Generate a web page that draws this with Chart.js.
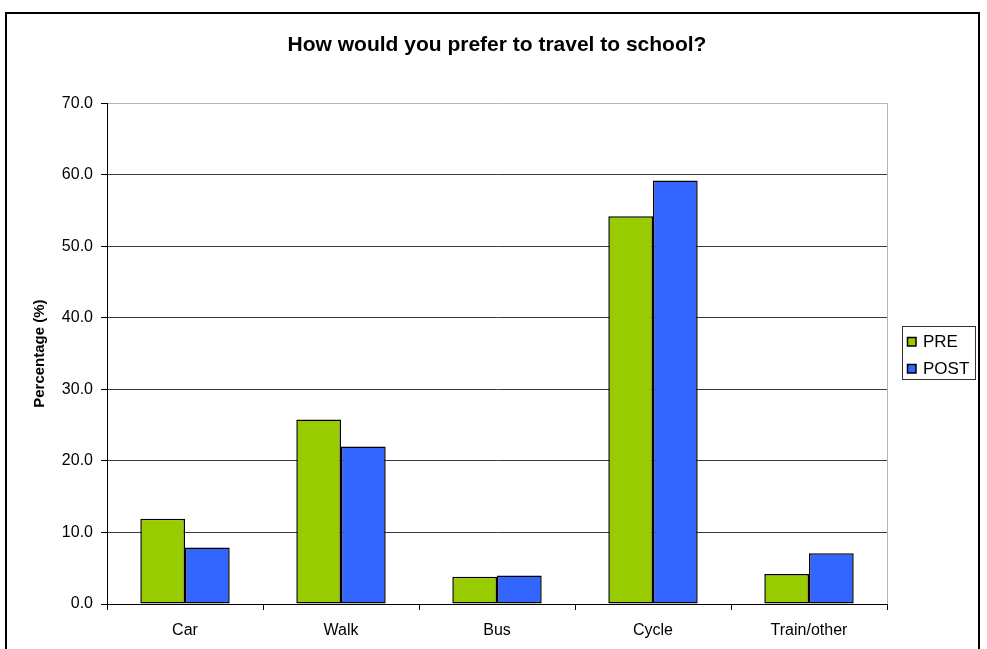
<!DOCTYPE html>
<html>
<head>
<meta charset="utf-8">
<title>How would you prefer to travel to school?</title>
<script src="https://cdn.jsdelivr.net/npm/chart.js@4/dist/chart.umd.min.js"></script>
<style>
  html, body { margin: 0; padding: 0; background: #ffffff; }
  canvas { display: block; }
</style>
</head>
<body>
<canvas id="chart" width="987" height="649"></canvas>
<script>
// Survey answers: preferred way of travelling to school, before and after
const categories = ['Car', 'Walk', 'Bus', 'Cycle', 'Train/other'];
const preValues  = [11.9, 25.8, 3.8, 54.2, 4.2];
const postValues = [7.9, 22.0, 4.0, 59.2, 7.1];
const seriesNames = ['PRE', 'POST'];
const axisMin = 0;
const axisMax = 70;
const axisStep = 10;

const FONT = "'Liberation Sans', Arial, Helvetica, sans-serif";

// White page, black frame around the whole chart
const framePlugin = {
  id: 'frame',
  beforeDraw(chart) {
    const { ctx, width, height } = chart;
    ctx.save();
    ctx.fillStyle = '#ffffff';
    ctx.fillRect(0, 0, width, height);
    ctx.restore();
  },
  afterDraw(chart) {
    const { ctx, height } = chart;
    ctx.save();
    ctx.strokeStyle = '#000000';
    ctx.lineWidth = 2;
    ctx.strokeRect(6, 13, 973, height + 10);
    ctx.restore();
  }
};

// Light grey edge on the right side of the plot area
const plotEdgePlugin = {
  id: 'plotEdge',
  beforeDatasetsDraw(chart) {
    const { ctx, chartArea } = chart;
    ctx.save();
    ctx.strokeStyle = '#b4b4b4';
    ctx.lineWidth = 1;
    ctx.beginPath();
    const x = Math.round(chartArea.right) + 0.5;
    ctx.moveTo(x, chartArea.top);
    ctx.lineTo(x, chartArea.bottom);
    ctx.stroke();
    ctx.restore();
  }
};

// Boxed legend to the right of the plot
const boxLegendPlugin = {
  id: 'boxLegend',
  afterDraw(chart) {
    const { ctx, chartArea } = chart;
    const sets = chart.data.datasets;
    const left = Math.round(chartArea.right) + 15;
    const top = 326;
    const w = 73, rowH = 26.5;
    const h = 53;
    ctx.save();
    ctx.fillStyle = '#ffffff';
    ctx.fillRect(left, top, w, h);
    ctx.strokeStyle = '#333333';
    ctx.lineWidth = 1;
    ctx.strokeRect(left + 0.5, top + 0.5, w, h);
    ctx.font = '17px ' + FONT;
    ctx.textBaseline = 'middle';
    ctx.textAlign = 'left';
    sets.forEach((ds, i) => {
      const cy = top + 15.5 + i * rowH;
      const sy = Math.round(cy - 4.5);
      ctx.fillStyle = ds.backgroundColor;
      ctx.fillRect(left + 5, sy, 9, 9);
      ctx.strokeStyle = '#000000';
      ctx.lineWidth = 1.5;
      ctx.strokeRect(left + 5.5, sy + 0.5, 8.5, 8.5);
      ctx.fillStyle = '#000000';
      ctx.fillText(ds.label, left + 21, cy + 1);
    });
    ctx.restore();
  }
};

new Chart(document.getElementById('chart'), {
  type: 'bar',
  data: {
    labels: categories,
    datasets: [
      {
        label: seriesNames[0],
        data: preValues,
        backgroundColor: '#99cc00',
        borderColor: '#000000',
        borderWidth: 1.5,
        borderSkipped: false
      },
      {
        label: seriesNames[1],
        data: postValues,
        backgroundColor: '#3366ff',
        borderColor: '#000000',
        borderWidth: 1.5,
        borderSkipped: false
      }
    ]
  },
  options: {
    responsive: false,
    animation: false,
    devicePixelRatio: 1,
    layout: { padding: { left: 0, right: 100, top: 0, bottom: 0 } },
    datasets: {
      bar: { categoryPercentage: 0.573, barPercentage: 1.0 }
    },
    plugins: {
      legend: { display: false },
      tooltip: { enabled: false },
      title: {
        display: true,
        fullSize: false,
        text: 'How would you prefer to travel to school?',
        color: '#000000',
        font: { family: FONT, size: 21, weight: 'bold' },
        padding: { top: 33, bottom: 45 }
      }
    },
    scales: {
      x: {
        afterFit(scale) { scale.height = 45; },
        grid: {
          display: true,
          drawOnChartArea: false,
          drawTicks: true,
          tickLength: 6,
          tickColor: '#000000',
          offset: true
        },
        border: { display: true, color: '#000000', width: 1 },
        ticks: {
          color: '#000000',
          font: { family: FONT, size: 16 },
          padding: 11,
          maxRotation: 0
        }
      },
      y: {
        min: axisMin,
        max: axisMax,
        afterFit(scale) { scale.width = 107; },
        grid: {
          color: (c) => (c.tick && c.tick.value === axisMax ? '#b4b4b4' : '#3a3a3a'),
          tickColor: '#000000',
          tickLength: 6,
          drawTicks: true
        },
        border: { display: true, color: '#000000', width: 1 },
        ticks: {
          stepSize: axisStep,
          color: '#000000',
          font: { family: FONT, size: 16 },
          padding: 8,
          callback: (v) => Number(v).toFixed(1)
        },
        title: {
          display: true,
          text: 'Percentage (%)',
          color: '#000000',
          font: { family: FONT, size: 15, weight: 'bold' },
          padding: { top: 31, bottom: 0 }
        }
      }
    }
  },
  plugins: [framePlugin, plotEdgePlugin, boxLegendPlugin]
});
</script>
</body>
</html>
